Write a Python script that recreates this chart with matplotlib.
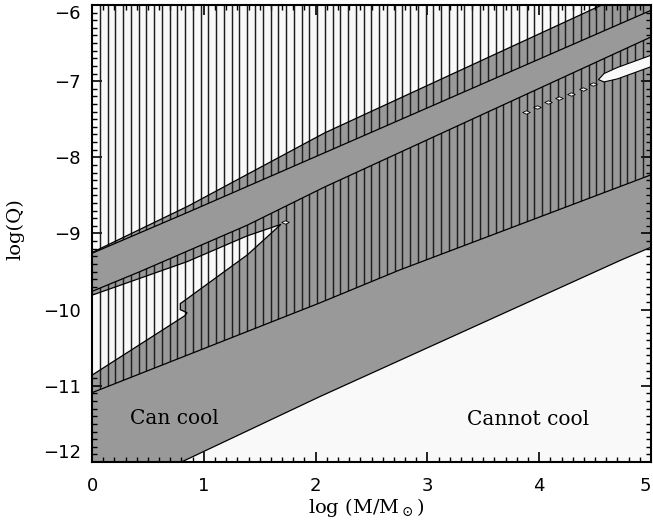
import numpy as np
from matplotlib import pyplot as plt
from matplotlib.patches import Polygon, PathPatch
from matplotlib.path import Path
from matplotlib.collections import LineCollection

plt.rcParams['font.family'] = 'DejaVu Serif'
plt.rcParams['mathtext.fontset'] = 'dejavuserif'

GRAY = '#999999'
BG = '#f9f9f9'
HATCH = '#1e1e1e'

# boundaries: x = log(M/Msun), y = log(Q)
# lower edge of the grey band (cooling limit)
lim_x = [0.80, 2.04, 4.73, 5.00]
lim_y = [-12.00, -11.14, -9.35, -9.18]

# lower edge of the middle hatched zone
hat_lo_x = [0.00, 2.04, 2.75, 5.00]
hat_lo_y = [-11.09, -9.91, -9.48, -8.23]

# upper edge of the grey band
top_x = [0.00, 0.86, 2.08, 4.56]
top_y = [-9.25, -8.64, -7.68, -6.00]

# lower edge of the upper hatched zone
hat_up_x = [0.00, 0.86, 2.08, 5.00]
hat_up_y = [-9.26, -8.72, -7.94, -6.07]

# upper edge of the middle hatched zone
mid_x = [0.00, 0.43, 1.39, 2.08, 5.00]
mid_y = [-9.76, -9.50, -8.89, -8.39, -6.42]

# white wedge: upper edge to the tip, then lower edge back
wedge_x = [0.00, 0.85, 1.39, 1.69, 1.39, 0.81, 0.79, 0.79, 0.85, 0.83, 0.00]
wedge_y = [-9.81, -9.37, -9.03, -8.88, -9.28, -9.90, -9.92, -10.00, -10.04, -10.08, -10.86]

# white sliver at the upper right
sliver_x = [4.53, 4.58, 4.70, 5.00, 5.00, 4.70, 4.58]
sliver_y = [-6.98, -6.90, -6.82, -6.66, -6.81, -6.97, -7.01]

# small holes
hole_x = [1.73, 3.88, 3.98, 4.08, 4.18, 4.28, 4.39, 4.48]
hole_y = [-8.85, -7.40, -7.34, -7.28, -7.22, -7.17, -7.10, -7.04]

labels = ['Can cool', 'Cannot cool']
label_x = [0.74, 3.90]
label_y = [-11.43, -11.44]

xticks = [0, 1, 2, 3, 4, 5]
yticks = [-12, -11, -10, -9, -8, -7, -6]

fig = plt.figure(figsize=(6.53, 5.25), dpi=100)
ax = fig.add_axes([92 / 653, 63 / 525, 559 / 653, 457 / 525])
ax.set_facecolor(BG)
ax.set_xlim(0, 5)
ax.set_ylim(-12, -6)

# grey band
gray_v = [(0.0, -12.0)] + list(zip(lim_x, lim_y)) + [(5.0, -6.0)] + list(zip(top_x, top_y))[::-1]
ax.add_patch(Polygon(gray_v, closed=True, facecolor=GRAY, edgecolor='none', zorder=1))

# white wedge inside the band
wedge_v = list(zip(wedge_x, wedge_y))
ax.add_patch(Polygon(wedge_v, closed=True, facecolor=BG, edgecolor='none', zorder=2))

# hatched zones: vertical lines clipped to them
zone_a = list(zip(hat_up_x, hat_up_y)) + [(5.0, -6.0), (0.0, -6.0)]
zone_b = list(zip(hat_lo_x, hat_lo_y)) + list(zip(mid_x, mid_y))[::-1]
clip = Path.make_compound_path(Path(zone_a + [zone_a[0]], closed=True),
                               Path(zone_b + [zone_b[0]], closed=True))
clip_patch = PathPatch(clip, transform=ax.transData, facecolor='none', edgecolor='none')
ax.add_patch(clip_patch)
xs = np.arange(0.07, 5.0, 0.0694)
segs = [[(x, -12.0), (x, -6.0)] for x in xs]
hatch = LineCollection(segs, colors=HATCH, linewidths=1.05, zorder=3)
ax.add_collection(hatch)
hatch.set_clip_path(clip_patch)

# sliver and holes
ax.add_patch(Polygon(list(zip(sliver_x, sliver_y)), closed=True, facecolor=BG,
                     edgecolor='k', linewidth=0.8, zorder=4))
diamond = [(-1, 0), (0, 0.45), (1, 0), (0, -0.45), (-1, 0)]
ax.scatter(hole_x, hole_y, marker=diamond, s=30, facecolor=BG, edgecolor='k',
           linewidth=0.6, zorder=5)

# contour lines
for cx, cy in [(lim_x, lim_y), (hat_lo_x, hat_lo_y), (top_x, top_y),
               (hat_up_x, hat_up_y), (mid_x, mid_y)]:
    ax.plot(cx, cy, color='k', linewidth=0.9, zorder=5)
ax.add_patch(Polygon(wedge_v, closed=True, facecolor='none', edgecolor='k',
                     linewidth=0.9, zorder=5))

for t, x, y in zip(labels, label_x, label_y):
    ax.text(x, y, t, fontsize=14.5, ha='center', va='center', zorder=6)

ax.set_xticks(xticks)
ax.set_yticks(yticks)
ax.set_xticklabels([str(v) for v in xticks], family='DejaVu Sans', fontsize=13)
ax.set_yticklabels(['\u2212' + str(-v) for v in yticks], family='DejaVu Sans', fontsize=13)
ax.minorticks_on()
ax.xaxis.set_minor_locator(plt.MultipleLocator(0.1))
ax.yaxis.set_minor_locator(plt.MultipleLocator(0.1))
ax.tick_params(which='both', direction='in', top=True, right=True)
ax.tick_params(which='major', length=7.5, width=1.2)
ax.tick_params(which='minor', length=3.8, width=1.0)
ax.tick_params(axis='x', pad=11)
ax.tick_params(axis='y', pad=8)
for s in ax.spines.values():
    s.set_linewidth(1.5)
    s.set_zorder(10)

ax.yaxis.get_major_ticks()[0].label1.set_va('bottom')
ax.yaxis.get_major_ticks()[-1].label1.set_va('top')
ax.xaxis.get_major_ticks()[-1].label1.set_ha('right')

ax.set_xlabel(r'log (M/M$_\odot$)', fontsize=14)
ax.set_ylabel('log(Q)', fontsize=14)
ax.xaxis.set_label_coords(0.49, -0.075)
ax.yaxis.set_label_coords(-0.12, 0.51)

fig.savefig('out.png', dpi=100)
